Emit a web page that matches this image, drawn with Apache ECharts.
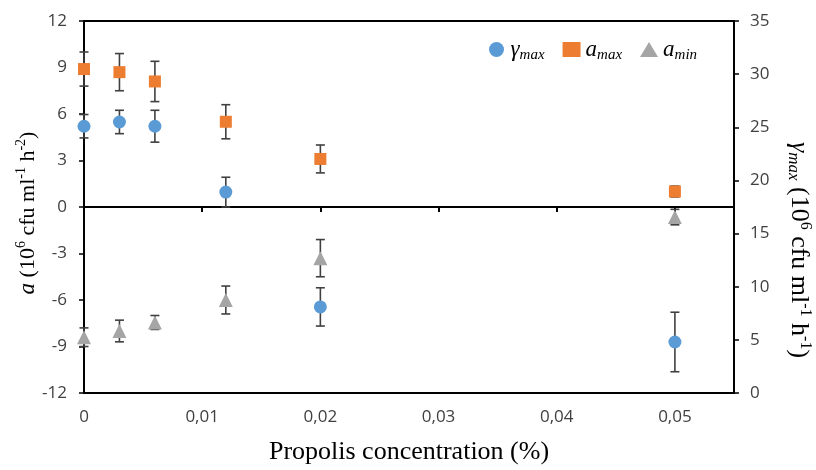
<!DOCTYPE html>
<html>
<head>
<meta charset="utf-8">
<script src="https://cdn.jsdelivr.net/npm/echarts@6/dist/echarts.min.js"></script>
<style>
  html, body { margin: 0; padding: 0; background: #fff; }
  #chart { width: 816px; height: 470px; }
</style>
</head>
<body>
<div id="chart"></div>
<script>
// propolis concentration (%)
const conc = [0, 0.003, 0.006, 0.012, 0.02, 0.05];
// γmax (right axis) and its error
const gammaMax = [25.1, 25.5, 25.1, 18.9, 8.1, 4.8];
const gammaMaxErr = [1.1, 1.1, 1.5, 1.4, 1.8, 2.8];
// amax / amin (left axis) and their errors
const aMax = [8.9, 8.7, 8.1, 5.5, 3.1, 1.0];
const aMaxErr = [1.1, 1.2, 1.3, 1.1, 0.9, 0.35];
const aMin = [-8.4, -8.0, -7.45, -6.0, -3.3, -0.65];
const aMinErr = [0.6, 0.7, 0.45, 0.9, 1.2, 0.5];

const labelFont = "'Open Sans', sans-serif";
const serif = "'Liberation Serif', 'Times New Roman', serif";
const axisColor = "#000";
const tickColor = "#404040";
const errColor = "#404040";

const chart = echarts.init(document.getElementById("chart"));

// 组合成 [x, y, err]
const pts = (ys, errs) => conc.map((x, i) => [x, ys[i], errs ? errs[i] : 0]);

// 误差线
const errorBar = (params, api) => {
  const x = api.value(0);
  const y = api.value(1);
  const e = api.value(2);
  const hi = api.coord([x, y + e]);
  const lo = api.coord([x, y - e]);
  const hw = 4.5;
  const style = { stroke: errColor, lineWidth: 1.6 };
  return {
    type: "group",
    children: [
      { type: "line", shape: { x1: hi[0], y1: hi[1], x2: lo[0], y2: lo[1] }, style },
      { type: "line", shape: { x1: hi[0] - hw, y1: hi[1], x2: hi[0] + hw, y2: hi[1] }, style },
      { type: "line", shape: { x1: lo[0] - hw, y1: lo[1], x2: lo[0] + hw, y2: lo[1] }, style }
    ]
  };
};

const legendText = { "γmax": "{g|γ}{s|max}", "amax": "{g|a}{s|max}", "amin": "{g|a}{s|min}" };

const xFmt = (v) => (v === 0 ? "0" : String(+v.toFixed(3)).replace(".", ","));

const option = {
  animation: false,
  grid: {
    left: 84,
    right: 82,
    top: 21,
    bottom: 77,
    containLabel: false,
    outerBoundsMode: "none",
    show: true,
    borderColor: axisColor,
    borderWidth: 2
  },
  legend: {
    left: 484,
    top: 33,
    itemWidth: 18,
    itemHeight: 15,
    itemGap: 18,
    data: [
      { name: "γmax", icon: "circle" },
      { name: "amax", icon: "rect" },
      { name: "amin", icon: "triangle" }
    ],
    formatter: (name) => legendText[name],
    textStyle: {
      rich: {
        g: { fontFamily: serif, fontStyle: "italic", fontSize: 23, color: "#000", lineHeight: 26 },
        s: { fontFamily: serif, fontStyle: "italic", fontSize: 15, color: "#000", lineHeight: 15, verticalAlign: "bottom" }
      }
    }
  },
  xAxis: [
    {
      type: "value",
      position: "bottom",
      min: 0,
      max: 0.055,
      interval: 0.01,
      name: "Propolis concentration (%)",
      nameLocation: "middle",
      nameGap: 46,
      nameMoveOverlap: false,
      nameTextStyle: { fontFamily: serif, fontSize: 26, color: "#000" },
      axisLine: { onZero: false, show: true, lineStyle: { color: axisColor, width: 2 } },
      axisTick: { show: false },
      splitLine: { show: false },
      axisLabel: {
        margin: 16,
        fontFamily: labelFont,
        fontSize: 17,
        color: tickColor,
        showMaxLabel: false,
        formatter: xFmt
      }
    },
    {
      // 零线上的刻度
      type: "value",
      position: "top",
      min: 0,
      max: 0.055,
      interval: 0.01,
      axisLine: { onZero: true, onZeroAxisIndex: 0, lineStyle: { color: axisColor, width: 2 } },
      axisTick: { show: true, inside: true, length: 5, lineStyle: { color: axisColor, width: 2 } },
      axisLabel: { show: false },
      splitLine: { show: false }
    }
  ],
  yAxis: [
    {
      type: "value",
      position: "left",
      min: -12,
      max: 12,
      interval: 3,
      name: "{i|a}{n| (10}{sup|6}{n| cfu ml}{sup|-1}{n| h}{sup|-2}{n|)}",
      nameLocation: "middle",
      nameRotate: 90,
      nameGap: 42,
      nameMoveOverlap: false,
      nameTextStyle: {
        padding: [0, 12, 0, 0],
        rich: {
          i: { fontFamily: serif, fontStyle: "italic", fontSize: 23, color: "#000", lineHeight: 28 },
          n: { fontFamily: serif, fontSize: 22, color: "#000", lineHeight: 28 },
          sup: { fontFamily: serif, fontSize: 14, color: "#000", lineHeight: 14, verticalAlign: "top" }
        }
      },
      axisLine: { show: true, onZero: false, lineStyle: { color: axisColor, width: 2 } },
      axisTick: { show: true, length: 5, lineStyle: { color: axisColor, width: 1.5 } },
      splitLine: { show: false },
      axisLabel: { margin: 17, fontFamily: labelFont, fontSize: 17, color: tickColor }
    },
    {
      type: "value",
      position: "right",
      min: 0,
      max: 35,
      interval: 5,
      name: "{i|γ}{sub|max}{n| (10}{sup|6}{n| cfu ml}{sup|-1}{n| h}{sup|-1}{n|)}",
      nameLocation: "middle",
      nameRotate: -90,
      nameGap: 51,
      nameMoveOverlap: false,
      nameTextStyle: {
        padding: [0, 0, 0, 86],
        rich: {
          i: { fontFamily: serif, fontStyle: "italic", fontSize: 26, color: "#000", lineHeight: 28 },
          sub: { fontFamily: serif, fontStyle: "italic", fontSize: 17, color: "#000", lineHeight: 17, verticalAlign: "bottom" },
          n: { fontFamily: serif, fontSize: 26, color: "#000", lineHeight: 28 },
          sup: { fontFamily: serif, fontSize: 16, color: "#000", lineHeight: 16, verticalAlign: "top" }
        }
      },
      axisLine: { show: true, onZero: false, lineStyle: { color: axisColor, width: 2 } },
      axisTick: { show: true, length: 5, lineStyle: { color: axisColor, width: 1.5 } },
      splitLine: { show: false },
      axisLabel: { margin: 16, fontFamily: labelFont, fontSize: 17, color: tickColor }
    }
  ],
  series: [
    {
      type: "custom",
      xAxisIndex: 0,
      yAxisIndex: 1,
      renderItem: errorBar,
      encode: { x: 0, y: 1 },
      data: pts(gammaMax, gammaMaxErr),
      z: 1,
      silent: true
    },
    {
      type: "custom",
      xAxisIndex: 0,
      yAxisIndex: 0,
      renderItem: errorBar,
      encode: { x: 0, y: 1 },
      data: pts(aMax, aMaxErr),
      z: 1,
      silent: true
    },
    {
      type: "custom",
      xAxisIndex: 0,
      yAxisIndex: 0,
      renderItem: errorBar,
      encode: { x: 0, y: 1 },
      data: pts(aMin, aMinErr),
      z: 1,
      silent: true
    },
    {
      name: "γmax",
      type: "scatter",
      xAxisIndex: 0,
      yAxisIndex: 1,
      symbol: "circle",
      symbolSize: 13,
      itemStyle: { color: "#5B9BD5", opacity: 1 },
      data: pts(gammaMax).map((p) => [p[0], p[1]]),
      z: 3
    },
    {
      name: "amax",
      type: "scatter",
      xAxisIndex: 0,
      yAxisIndex: 0,
      symbol: "rect",
      symbolSize: 12,
      itemStyle: { color: "#ED7D31", opacity: 1 },
      data: pts(aMax).map((p) => [p[0], p[1]]),
      z: 3
    },
    {
      name: "amin",
      type: "scatter",
      xAxisIndex: 0,
      yAxisIndex: 0,
      symbol: "triangle",
      symbolSize: 14,
      itemStyle: { color: "#A5A5A5", opacity: 1 },
      data: pts(aMin).map((p) => [p[0], p[1]]),
      z: 3
    }
  ]
};

chart.setOption(option);
</script>
</body>
</html>
